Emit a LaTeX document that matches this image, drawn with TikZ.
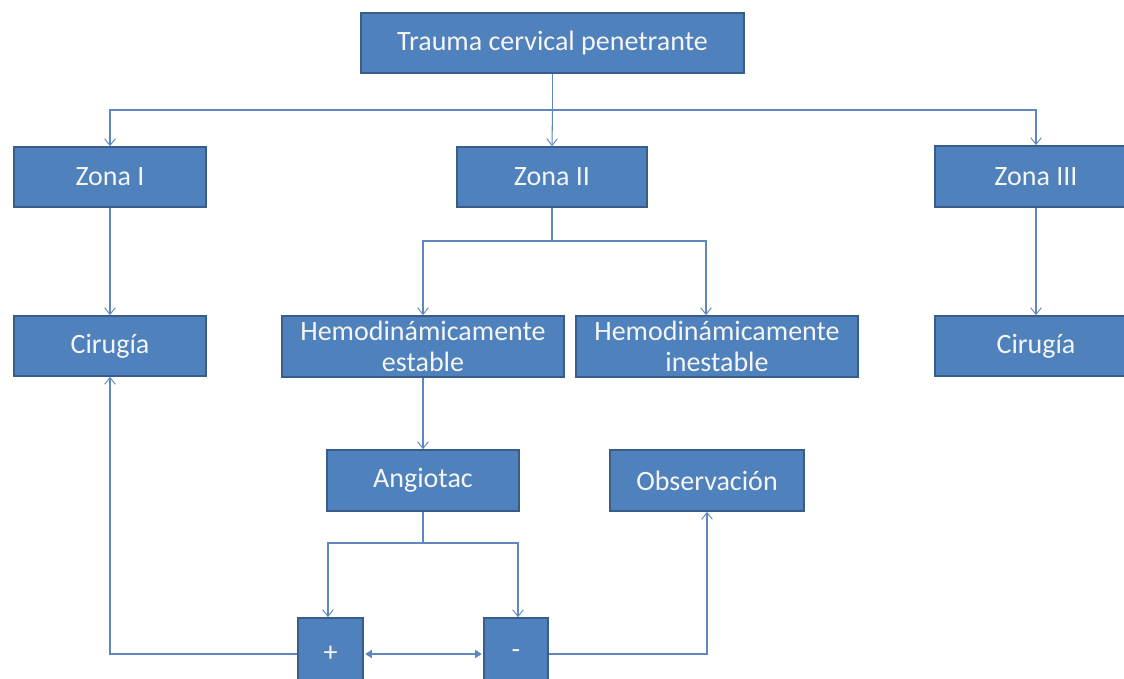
\documentclass[tikz,border=0pt]{standalone}
\usepackage{fontspec}
\setmainfont{Carlito}
\usetikzlibrary{arrows.meta}
\definecolor{boxfill}{RGB}{79,129,189}
\definecolor{boxborder}{RGB}{56,93,138}
\definecolor{linecol}{RGB}{95,135,190}
\definecolor{txtcol}{RGB}{245,245,245}
\tikzset{
  box/.style={draw=boxborder, fill=boxfill, line width=1.3pt, text=txtcol,
    font=\fontsize{21}{23.5}\selectfont, align=center, inner sep=0pt,
    minimum height=45pt},
  conn/.style={draw=linecol, line width=0.8pt},
  arr/.style={conn, -{Straight Barb[length=5pt,width=8pt,line width=0.7pt]}},
  darr/.style={conn, line width=1.2pt, {Triangle[length=5pt,width=6pt]}-{Triangle[length=5pt,width=6pt]}}
}
\begin{document}
\begin{tikzpicture}[x=0.75pt,y=-0.75pt]
\path[use as bounding box, clip] (0,0) rectangle (1124,678);
\fill[white] (0,0) rectangle (1124,678);
% nodes
\node[box, minimum width=287pt] (T) at (552.5,43) {Trauma cervical penetrante};
\node[box, minimum width=144pt] (Z1) at (110,177) {Zona I};
\node[box, minimum width=143pt] (Z2) at (552,177) {Zona II};
\node[box, minimum width=152pt, minimum height=45.75pt] (Z3) at (1036,176.5) {Zona III};
\node[box, minimum width=144pt] (C1) at (110,346) {Cirugía};
\node[box, minimum width=211.5pt, minimum height=45.75pt] (HE) at (423,346.5) {Hemodinámicamente\\estable};
\node[box, minimum width=211.5pt, minimum height=45.75pt] (HI) at (717,346.5) {Hemodinámicamente\\inestable};
\node[box, minimum width=152pt] (C3) at (1036,346) {Cirugía};
\node[box, minimum width=144pt, minimum height=45.75pt] (A) at (423,480.5) {Angiotac};
\node[box, minimum width=145.5pt, minimum height=45.75pt] (O) at (707,480.5) {Observación};
\node[box, minimum width=48.75pt, minimum height=54pt] (P) at (330.5,654) {+};
\node[box, minimum width=48pt, minimum height=54pt] (M) at (516,654) {-};
% junction coordinates
\coordinate (j1) at (552.5,110);
\coordinate (j2) at (552,241);
\coordinate (j3) at (423,543);
% connectors
\draw[conn] (T.south) -- (j1);
\draw[arr] (j1) -| (Z1.north);
\draw[arr] (j1) -- (Z2.north);
\draw[arr] (j1) -| (Z3.north);
\draw[arr] (Z1) -- (C1);
\draw[arr] (Z3.south) -- (C3.north);
\draw[conn] (Z2.south) -- (j2);
\draw[arr] (j2) -| (HE.north);
\draw[arr] (j2) -| ([xshift=-8.25pt]HI.north);
\draw[arr] (HE.south) -- (A.north);
\draw[conn] (A.south) -- (j3);
\draw[arr] (j3) -| ([xshift=-1.9pt]P.north);
\draw[arr] (j3) -| ([xshift=1.5pt]M.north);
\draw[arr, line width=1.2pt] (P.west) -| (C1.south);
\draw[arr, line width=1.2pt] (M.east) -| (O.south);
\draw[darr] ([xshift=1pt]P.east) -- ([xshift=-1pt]M.west);
\end{tikzpicture}
\end{document}
